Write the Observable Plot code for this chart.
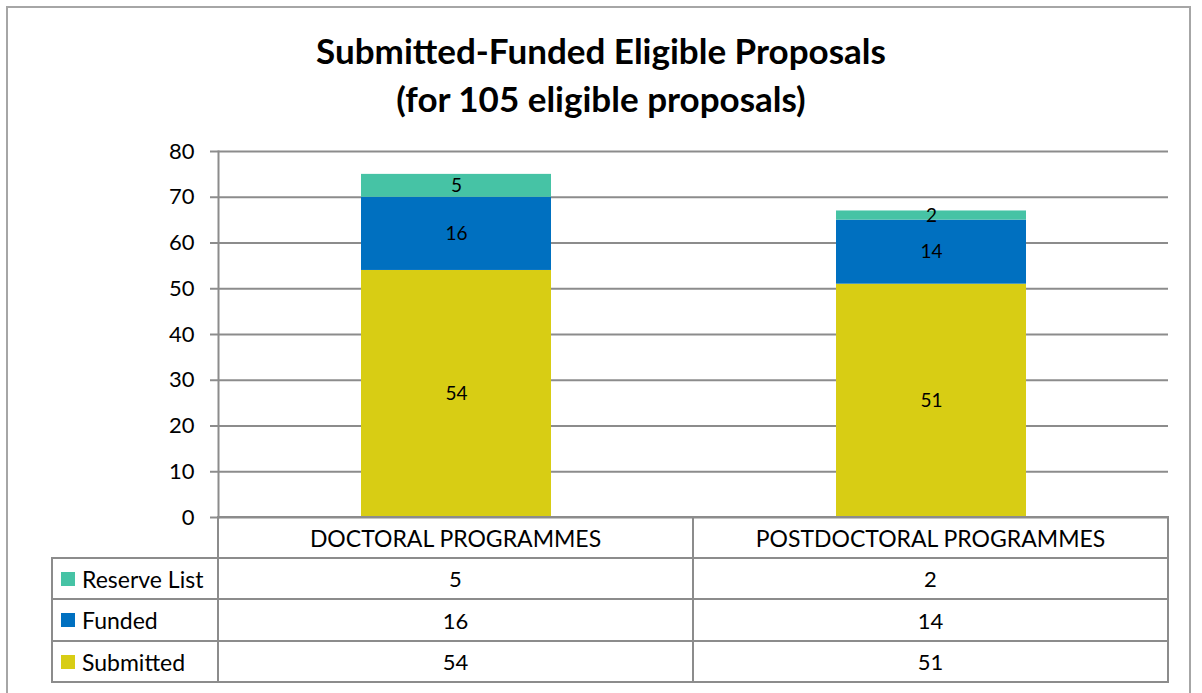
<!DOCTYPE html>
<html>
<head>
<meta charset="utf-8">
<script src="https://cdn.jsdelivr.net/npm/d3@7"></script>
<script src="https://cdn.jsdelivr.net/npm/@observablehq/plot@0.6"></script>
<style>
  html, body { margin: 0; padding: 0; background: #fff; }
  body { width: 1202px; height: 693px; position: relative; overflow: hidden; font-family: Lato, "Open Sans", sans-serif; color: #000; }
  #frame { position: absolute; left: 6px; top: 6px; width: 1185px; height: 720px; border: 2px solid #a6a6a6; box-sizing: border-box; }
  #title { position: absolute; left: 0; top: 26px; width: 1202px; text-align: center; font-weight: 700; font-size: 35px; line-height: 48px; }
  #chart { position: absolute; left: 0; top: 130px; }
  #table { position: absolute; left: 0; top: 0; }
  .cell { position: absolute; box-sizing: border-box; display: flex; align-items: center; justify-content: center; font-size: 22px; }
  .cell.head { font-size: 23px; }
  .cell.label { font-size: 23px; justify-content: flex-start; padding-left: 9px; }
  .line { position: absolute; background: #8c8c8c; }
  .key { display: inline-block; width: 14px; height: 14px; margin-right: 7px; }
</style>
</head>
<body>
<div id="frame"></div>
<div id="title">Submitted-Funded Eligible Proposals<br>(for 105 eligible proposals)</div>
<div id="chart"></div>
<div id="table"></div>
<script>
const categories = ["DOCTORAL PROGRAMMES", "POSTDOCTORAL PROGRAMMES"];
const seriesNames = ["Submitted", "Funded", "Reserve List"];
const submitted = [54, 51];
const funded = [16, 14];
const reserve = [5, 2];
const yTicks = [0, 10, 20, 30, 40, 50, 60, 70, 80];
const colors = ["#D8CD14", "#0070C0", "#46C3A5"];

const seriesValues = [submitted, funded, reserve];
const rows = [];
seriesNames.forEach((s, i) => categories.forEach((c, j) => rows.push({cat: c, series: s, value: seriesValues[i][j]})));

const gray = "#8c8c8c";
const chart = Plot.plot({
  width: 1202,
  height: 400,
  marginLeft: 218,
  marginRight: 34,
  marginTop: 21,
  marginBottom: 13,
  style: {fontFamily: "Lato, 'Open Sans', sans-serif", color: "#000", background: "transparent"},
  x: {domain: categories, paddingInner: 0.6, paddingOuter: 0.3, axis: null},
  y: {domain: [0, 80], axis: null},
  color: {domain: seriesNames, range: colors},
  marks: [
    Plot.gridY(yTicks, {stroke: gray, strokeOpacity: 1, strokeWidth: 2}),
    Plot.frame({anchor: "left", stroke: gray, strokeWidth: 2}),
    Plot.axisY(yTicks, {label: null, tickSize: 8, tickPadding: 16, stroke: gray, strokeWidth: 2, fontSize: 22, fill: "#000", tickFormat: d => String(d)}),
    Plot.barY(rows, Plot.stackY({x: "cat", y: "value", fill: "series", inset: 0})),
    Plot.text(rows, Plot.stackY({x: "cat", y: "value", text: d => String(d.value), fontSize: 19, fill: "#000"}))
  ]
});
document.getElementById("chart").appendChild(chart);

// data table below the chart, aligned with the x bands
const tbl = document.getElementById("table");
const colX = [52, 218, 693, 1168];
const rowY = [517, 558, 599, 641, 682];
function addLine(x, y, w, h) {
  const d = document.createElement("div");
  d.className = "line";
  Object.assign(d.style, {left: (x - 1) + "px", top: (y - 1) + "px", width: w + "px", height: h + "px"});
  tbl.appendChild(d);
}
function addCell(x0, x1, y0, y1, html, cls) {
  const d = document.createElement("div");
  d.className = "cell" + (cls ? " " + cls : "");
  Object.assign(d.style, {left: x0 + "px", top: y0 + "px", width: (x1 - x0) + "px", height: (y1 - y0) + "px"});
  d.innerHTML = html;
  tbl.appendChild(d);
}
// header
categories.forEach((c, j) => addCell(colX[j + 1], colX[j + 2], rowY[0], rowY[1], c, "head"));
const tableRows = [
  {name: seriesNames[2], vals: reserve, color: colors[2]},
  {name: seriesNames[1], vals: funded, color: colors[1]},
  {name: seriesNames[0], vals: submitted, color: colors[0]}
];
tableRows.forEach((r, i) => {
  addCell(colX[0], colX[1], rowY[i + 1], rowY[i + 2], `<span class="key" style="background:${r.color}"></span>${r.name}`, "label");
  r.vals.forEach((v, j) => addCell(colX[j + 1], colX[j + 2], rowY[i + 1], rowY[i + 2], String(v)));
});
// horizontal lines
addLine(colX[1], rowY[0], colX[3] - colX[1] + 2, 2);
for (let i = 1; i < rowY.length; i++) addLine(colX[0], rowY[i], colX[3] - colX[0] + 2, 2);
// vertical lines
addLine(colX[0], rowY[1], 2, rowY[4] - rowY[1] + 2);
for (let j = 1; j < colX.length; j++) addLine(colX[j], rowY[0], 2, rowY[4] - rowY[0] + 2);
</script>
</body>
</html>
